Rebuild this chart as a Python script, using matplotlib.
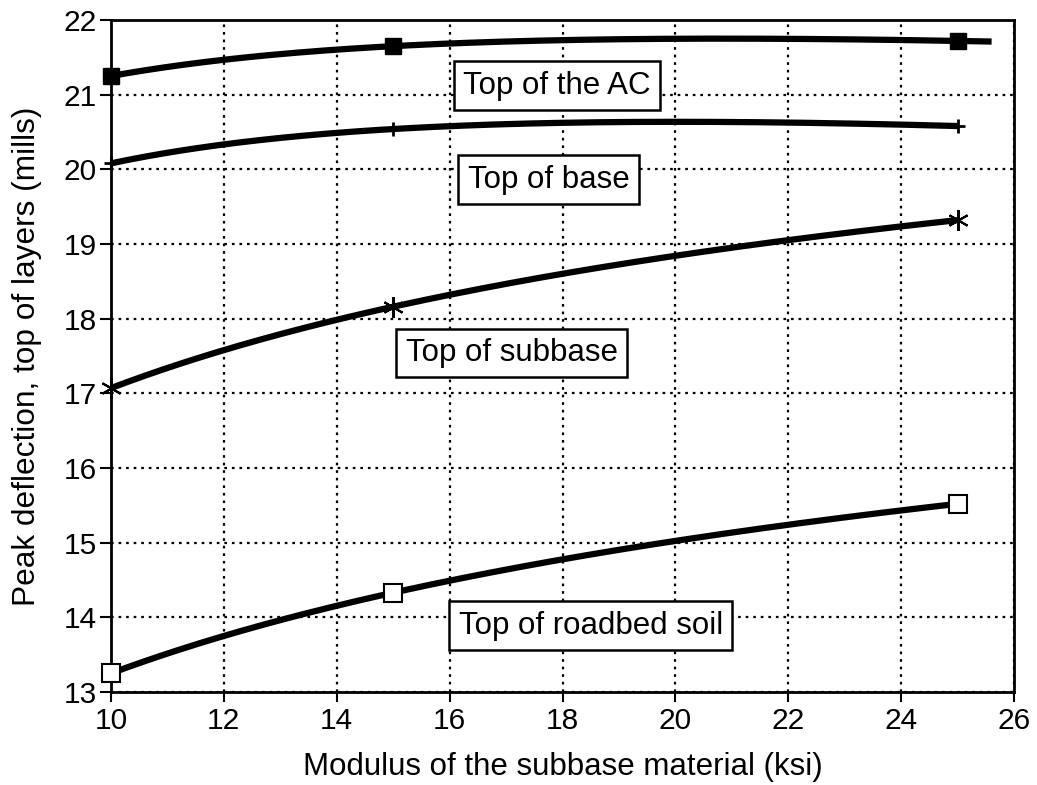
import numpy as np
import matplotlib
matplotlib.use('Agg')
import matplotlib.pyplot as plt

plt.rcParams['font.family'] = ['Liberation Sans', 'DejaVu Sans']

# модуль подстилающего слоя, ksi
modulus = [10, 15, 25]

# пиковые прогибы (mills) по слоям
top_ac = [21.25, 21.65, 21.72]
top_base = [20.08, 20.54, 20.58]
top_subbase = [17.07, 18.16, 19.32]
top_roadbed = [13.25, 14.33, 15.52]

labels = ['Top of the AC', 'Top of base', 'Top of subbase', 'Top of roadbed soil']
x_ticks = [10, 12, 14, 16, 18, 20, 22, 24, 26]
y_ticks = [13, 14, 15, 16, 17, 18, 19, 20, 21, 22]

fig = plt.figure(figsize=(10.37, 7.85), dpi=100)
ax = fig.add_axes([0.107, 0.1185, 0.871, 0.856])

series = [
    (top_ac, dict(marker='s', ms=12, mfc='black', mec='black'), 25.6),
    (top_base, dict(marker='+', ms=10, mew=2), 25.0),
    (top_subbase, dict(marker=(6, 2, 0), ms=15, mew=1.5), 25.0),
    (top_roadbed, dict(marker='s', ms=13, mfc='white', mec='black', mew=1.5), 24.9),
]

for ys, mk, x_end in series:
    # сглаживающая кривая: полином 2-й степени по ln(x)
    coef = np.polyfit(np.log(modulus), ys, 2)
    xs = np.linspace(10, x_end, 200)
    ax.plot(xs, np.polyval(coef, np.log(xs)), color='black', lw=4.5,
            solid_capstyle='butt', zorder=3)
    ax.plot(modulus, ys, ls='none', color='black', zorder=4, clip_on=False, **mk)

# подписи кривых
for txt, (x, y) in zip(labels, [(17.9, 21.12), (17.75, 19.86), (17.1, 17.54), (18.5, 13.89)]):
    ax.text(x, y, txt, fontsize=22.5, ha='center', va='center', zorder=5,
            bbox=dict(boxstyle='square,pad=0.3', fc='white', ec='black', lw=1.8))

ax.set_xlim(10, 26)
ax.set_ylim(13, 22)
ax.set_xticks(x_ticks)
ax.set_yticks(y_ticks)
ax.tick_params(axis='both', labelsize=21.5, direction='out', width=1.5, top=False, right=False)
ax.tick_params(axis='y', length=8, pad=2)
ax.tick_params(axis='x', length=7, pad=4)
ax.grid(True, color='black', ls=(0, (1.2, 2.2)), lw=1.6)
for s in ax.spines.values():
    s.set_linewidth(2)

ax.set_xlabel('Modulus of the subbase material (ksi)', fontsize=22.5, labelpad=12)
ax.set_ylabel('Peak deflection, top of layers (mills)', fontsize=22.8, labelpad=16)

fig.savefig('out.png', dpi=100)
